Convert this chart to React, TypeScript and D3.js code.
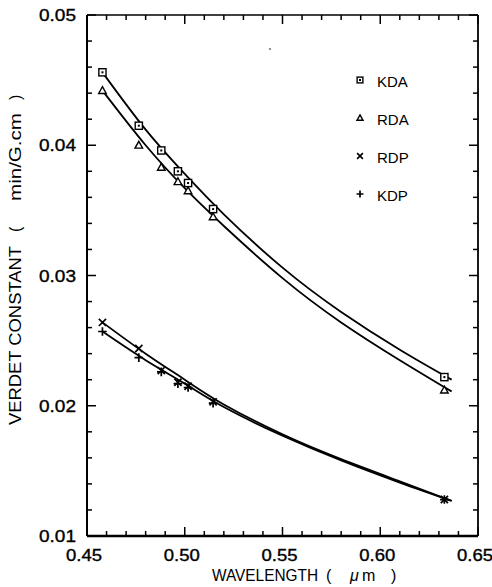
import * as d3 from "d3";

// measured wavelengths (um)
const wavelengths = [0.4579, 0.4765, 0.488, 0.4965, 0.5017, 0.5145, 0.6328];

// Verdet constant (min/G.cm)
const kdaValues = [0.0456, 0.0415, 0.0396, 0.038, 0.0371, 0.0351, 0.0222];
const rdaValues = [0.0442, 0.04, 0.0383, 0.0372, 0.0365, 0.0345, 0.0212];
const rdpValues = [0.0264, 0.0244, 0.0227, 0.0218, 0.0215, 0.0203, 0.0128];
const kdpValues = [0.0257, 0.0237, 0.0226, 0.0217, 0.0214, 0.0202, 0.0128];

// fitted curves
const fitLambda = [0.4579, 0.48, 0.5, 0.52, 0.55, 0.58, 0.61, 0.6365];
const kdaFit = [0.0456, 0.0412, 0.0378, 0.0347, 0.0306, 0.0272, 0.0243, 0.022];
const rdaFit = [0.0442, 0.04, 0.0367, 0.0338, 0.0298, 0.0264, 0.0235, 0.0211];
const rdpFit = [0.0264, 0.024, 0.022, 0.0201, 0.0178, 0.0159, 0.0142, 0.0127];
const kdpFit = [0.0257, 0.0235, 0.0217, 0.0199, 0.0177, 0.0158, 0.0141, 0.0127];

const xTicks = [0.45, 0.5, 0.55, 0.6, 0.65];
const yTicks = [0.01, 0.02, 0.03, 0.04, 0.05];

const legendNames = ["KDA", "RDA", "RDP", "KDP"];

const W = 492;
const H = 587;
const left = 87;
const right = 478;
const top = 15;
const bottom = 536;

const x = d3.scaleLinear().domain([0.45, 0.65]).range([left, right]);
const y = d3.scaleLinear().domain([0.01, 0.05]).range([bottom, top]);

const line = d3
  .line<number>()
  .x((_, i) => x(fitLambda[i]))
  .y((d) => y(d))
  .curve(d3.curveNatural);

const font = "Liberation Sans, Arial, sans-serif";

function Marker({ kind, cx, cy, s = 1 }: { kind: string; cx: number; cy: number; s?: number }) {
  const r = 3.6 * s;
  if (kind === "KDA")
    return (
      <g>
        <rect x={cx - r} y={cy - r} width={2 * r} height={2 * r} fill="white" stroke="black" strokeWidth={1.4} />
        <rect x={cx - 1} y={cy - 1} width={2} height={2} fill="black" />
      </g>
    );
  if (kind === "RDA")
    return (
      <path
        d={`M${cx},${cy - r * 1.1}L${cx + r * 1.05},${cy + r * 0.8}L${cx - r * 1.05},${cy + r * 0.8}Z`}
        fill="white"
        stroke="black"
        strokeWidth={1.4}
      />
    );
  if (kind === "RDP")
    return (
      <path
        d={`M${cx - r},${cy - r}L${cx + r},${cy + r}M${cx - r},${cy + r}L${cx + r},${cy - r}`}
        stroke="black"
        strokeWidth={1.7}
      />
    );
  return (
    <path
      d={`M${cx - r * 1.2},${cy}L${cx + r * 1.2},${cy}M${cx},${cy - r * 1.2}L${cx},${cy + r * 1.2}`}
      stroke="black"
      strokeWidth={1.7}
    />
  );
}

const series = [
  { name: "KDA", values: kdaValues, fit: kdaFit },
  { name: "RDA", values: rdaValues, fit: rdaFit },
  { name: "RDP", values: rdpValues, fit: rdpFit },
  { name: "KDP", values: kdpValues, fit: kdpFit },
];

const labelStyle = { fontFamily: font, fill: "black", stroke: "black", strokeWidth: 0.35 };

export default function App() {
  const xMinor = d3.range(0.45, 0.6501, 0.01);
  const yMinor = d3.range(0.01, 0.0501, 0.002);
  const isMajor = (v: number, step: number) => Math.abs(v / step - Math.round(v / step)) < 1e-6;

  return (
    <svg width={W} height={H} style={{ position: "absolute", left: 0, top: 0, background: "white" }}>
      {/* frame */}
      <line x1={left} y1={top} x2={right} y2={top} stroke="black" strokeWidth={1.5} />
      <line x1={right} y1={top} x2={right} y2={bottom} stroke="black" strokeWidth={1.8} />
      <line x1={left} y1={top} x2={left} y2={bottom} stroke="black" strokeWidth={2} />
      <line x1={left} y1={bottom} x2={right} y2={bottom} stroke="black" strokeWidth={2.5} />

      {/* x ticks, bottom and top */}
      {xMinor.map((v, i) => {
        const len = isMajor(v, 0.05) ? 9 : 5;
        return (
          <g key={"xt" + i}>
            <line x1={x(v)} x2={x(v)} y1={bottom} y2={bottom - len} stroke="black" strokeWidth={1.5} />
            <line x1={x(v)} x2={x(v)} y1={top} y2={top + len} stroke="black" strokeWidth={1.5} />
          </g>
        );
      })}
      {/* y ticks, left and right */}
      {yMinor.map((v, i) => {
        const len = isMajor(v, 0.01) ? 9 : 5;
        return (
          <g key={"yt" + i}>
            <line x1={left} x2={left + len} y1={y(v)} y2={y(v)} stroke="black" strokeWidth={1.5} />
            <line x1={right} x2={right - len} y1={y(v)} y2={y(v)} stroke="black" strokeWidth={1.5} />
          </g>
        );
      })}

      {/* tick labels */}
      {xTicks.map((v) => (
        <text
          key={"xl" + v}
          x={x(v) - 3}
          y={561}
          textAnchor="middle"
          fontSize={16}
          textLength={36}
          lengthAdjust="spacingAndGlyphs"
          style={labelStyle}
        >
          {v.toFixed(2)}
        </text>
      ))}
      {yTicks.map((v) => (
        <text
          key={"yl" + v}
          x={39}
          y={y(v) + 6}
          fontSize={16}
          textLength={37}
          lengthAdjust="spacingAndGlyphs"
          style={labelStyle}
        >
          {v.toFixed(2)}
        </text>
      ))}

      {/* axis titles */}
      <g fontSize={16} style={{ fontFamily: font }}>
        <text x={212} y={581} textLength={106} lengthAdjust="spacingAndGlyphs">WAVELENGTH</text>
        <text x={326} y={581}>(</text>
        <text x={350} y={581} fontStyle="italic">μ</text>
        <text x={362} y={581}>m</text>
        <text x={391} y={581}>)</text>
      </g>
      <g transform="translate(21,0) rotate(-90)" fontSize={16} style={{ fontFamily: font }}>
        <text x={-425} y={0} textLength={179} lengthAdjust="spacingAndGlyphs">VERDET CONSTANT</text>
        <text x={-232} y={0}>(</text>
        <text x={-201} y={0} textLength={88} lengthAdjust="spacingAndGlyphs">min/G.cm</text>
        <text x={-100} y={0}>)</text>
      </g>

      {/* fitted curves */}
      {series.map((s) => (
        <path key={"c" + s.name} d={line(s.fit) ?? ""} fill="none" stroke="black" strokeWidth={1.8} />
      ))}

      {/* data markers */}
      {series.map((s) =>
        s.values.map((v, i) => (
          <Marker key={s.name + i} kind={s.name} cx={x(wavelengths[i])} cy={y(v)} />
        ))
      )}

      {/* legend */}
      {legendNames.map((n, i) => (
        <g key={"lg" + n}>
          <Marker kind={n} cx={360} cy={80 + i * 38} s={0.8} />
          <text x={377} y={87 + i * 38} fontSize={15} style={{ fontFamily: font }}>
            {n}
          </text>
        </g>
      ))}

      {/* stray speck */}
      <circle cx={270} cy={49} r={0.8} fill="black" />
    </svg>
  );
}
